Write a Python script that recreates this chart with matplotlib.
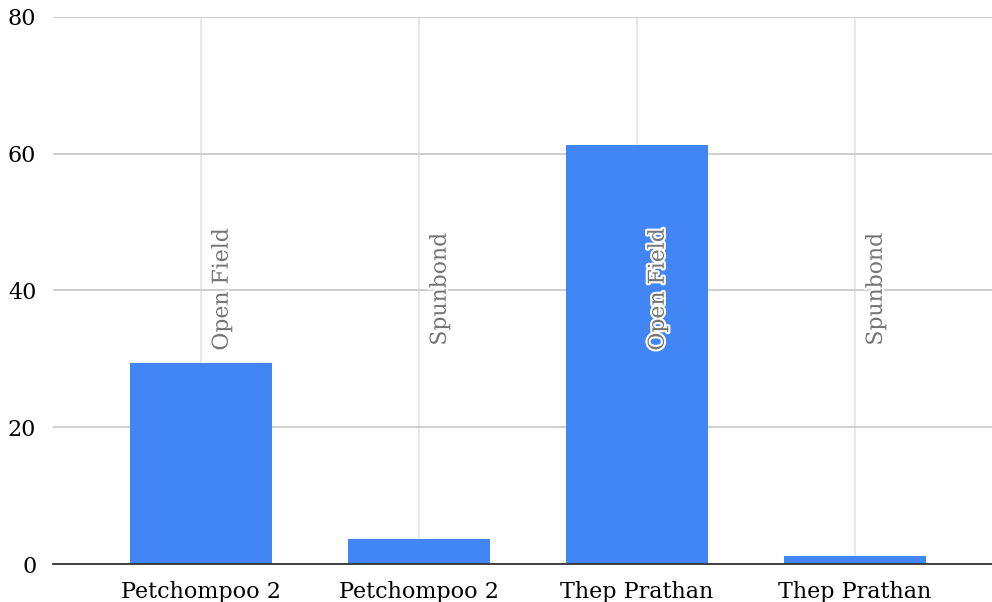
import matplotlib.pyplot as plt
import matplotlib.patheffects as pe
import numpy as np

# yield per plot (bars) and the growing method written on each one
sites = ["Petchompoo 2", "Petchompoo 2", "Thep Prathan", "Thep Prathan"]
methods = ["Open Field", "Spunbond", "Open Field", "Spunbond"]
values = [29.4, 3.7, 61.3, 1.2]
yticks = [0, 20, 40, 60, 80]

plt.rcParams['font.family'] = ['DejaVu Serif']

fig = plt.figure(figsize=(9.92, 6.02), dpi=100)
ax = fig.add_axes([0.0534, 0.0631, 0.9466, 0.9087])

x = np.arange(len(sites))
ax.bar(x, values, width=0.65, color="#4285f4", zorder=3)

# method names sit mid-height, slightly right of each category
for i, m in enumerate(methods):
    ax.text(i + 0.095, 40.2, m, rotation=90, ha="center", va="center",
            fontsize=15.8, color="#757575", zorder=4,
            path_effects=[pe.withStroke(linewidth=3, foreground="white")])

ax.set_ylim(0, 80)
ax.set_xlim(-0.679, 3.628)
ax.set_yticks(yticks)
ax.set_xticks(x)
ax.set_xticklabels(sites)
ax.tick_params(axis="both", length=0, labelsize=16, colors="#000000")
ax.tick_params(axis="y", pad=12)
ax.tick_params(axis="x", pad=12)

ax.grid(axis="y", color="#cccccc", linewidth=1.3, zorder=1)
ax.grid(axis="x", color="#e6e6e6", linewidth=1.3, zorder=1)
for s in ["top", "right", "left"]:
    ax.spines[s].set_visible(False)
ax.spines["bottom"].set_color("#333333")
ax.spines["bottom"].set_linewidth(1.3)
ax.spines["bottom"].set_zorder(5)

fig.savefig("out.png", dpi=100)
